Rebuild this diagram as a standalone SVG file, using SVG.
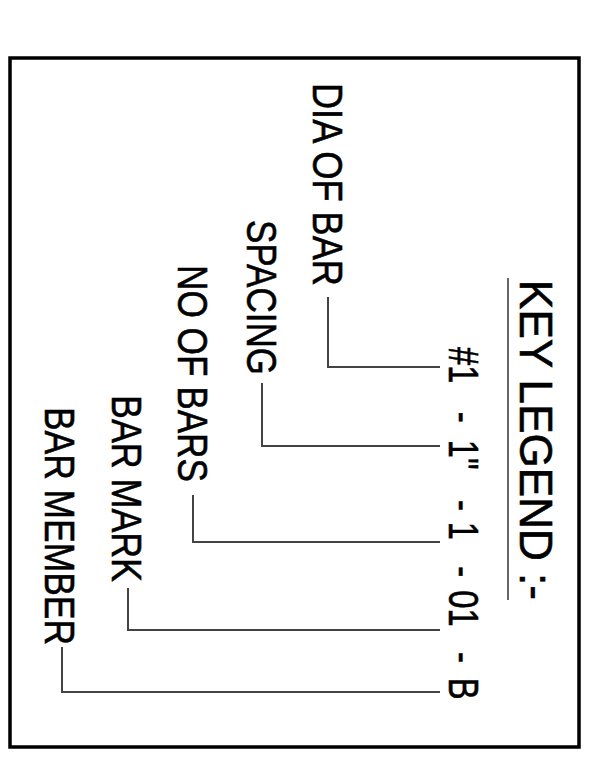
<svg xmlns="http://www.w3.org/2000/svg" width="590" height="758" viewBox="0 0 590 758">
<style>
text{font-family:"Liberation Sans",Arial,sans-serif;fill:#000;stroke:#000;stroke-width:0.6;}
.lbl{font-size:43px;}
.conn{fill:none;stroke:#444;stroke-width:2;}
</style>
<rect x="0" y="0" width="590" height="758" fill="#fff"/>
<rect id="frame" x="10" y="58" width="569" height="689" fill="none" stroke="#000" stroke-width="3.5"/>
<g id="title">
<text transform="rotate(90)" x="280" y="-520" font-size="46" textLength="320" lengthAdjust="spacingAndGlyphs">KEY LEGEND :-</text>
<line x1="508" y1="278" x2="508" y2="600" stroke="#333" stroke-width="1.5"/>
</g>
<g id="code">
<text transform="translate(449,347) rotate(90) scale(0.78,1)" x="0" y="0" font-size="42"><tspan x="0">#1 </tspan><tspan x="83">- </tspan><tspan x="119">1" </tspan><tspan x="196">- </tspan><tspan x="224">1 </tspan><tspan x="281">- </tspan><tspan x="312">01 </tspan><tspan x="391">- </tspan><tspan x="424">B</tspan></text>
</g>
<g id="dia-of-bar"><text class="lbl" transform="rotate(90)" x="83" y="-313" textLength="203" lengthAdjust="spacingAndGlyphs">DIA OF BAR</text></g>
<g id="spacing"><text class="lbl" transform="rotate(90)" x="220" y="-247" textLength="155" lengthAdjust="spacingAndGlyphs">SPACING</text></g>
<g id="no-of-bars"><text class="lbl" transform="rotate(90)" x="265" y="-178" textLength="217" lengthAdjust="spacingAndGlyphs">NO OF BARS</text></g>
<g id="bar-mark"><text class="lbl" transform="rotate(90)" x="395" y="-112" textLength="187" lengthAdjust="spacingAndGlyphs">BAR MARK</text></g>
<g id="bar-member"><text class="lbl" transform="rotate(90)" x="407" y="-45" textLength="238" lengthAdjust="spacingAndGlyphs">BAR MEMBER</text></g>
<g id="connectors">
<path class="conn" d="M328,297 V367 H440"/>
<path class="conn" d="M262,383 V446 H440"/>
<path class="conn" d="M193,495 V542 H440"/>
<path class="conn" d="M128,588 V630 H440"/>
<path class="conn" d="M62,647 V692 H440"/>
</g>
</svg>
